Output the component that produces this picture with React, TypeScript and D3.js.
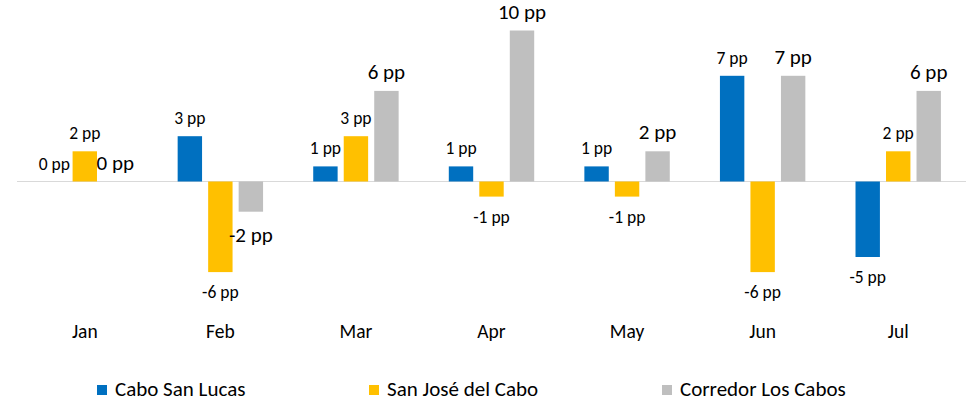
import React from 'react';
import { scaleBand, scaleLinear } from 'd3';

const months = ['Jan', 'Feb', 'Mar', 'Apr', 'May', 'Jun', 'Jul'];
const seriesNames = ['Cabo San Lucas', 'San José del Cabo', 'Corredor Los Cabos'];
const caboSanLucas = [0, 3, 1, 1, 1, 7, -5];
const sanJoseDelCabo = [2, -6, 3, -1, -1, -6, 2];
const corredorLosCabos = [0, -2, 6, 10, 2, 7, 6];
const colors = ['#0070C0', '#FFC000', '#BFBFBF'];

const FONT = 'Calibri, Carlito, Lato, sans-serif';

const App = () => {
  const width = 980;
  const height = 402;
  const seriesValues = [caboSanLucas, sanJoseDelCabo, corredorLosCabos];

  const x0 = scaleBand<string>()
    .domain(months)
    .range([17, 966])
    .paddingInner(0.37)
    .paddingOuter(0.185);

  const x1 = scaleBand<string>()
    .domain(seriesNames)
    .range([0, x0.bandwidth()])
    .paddingInner(0.2);

  // zero line sits at ~181.5px
  const y = scaleLinear().domain([-6, 10]).range([272.1, 30.5]);
  const zeroY = y(0);

  const legendX = [97, 369, 662];

  return (
    <svg
      width={width}
      height={height}
      style={{ position: 'absolute', left: 0, top: 0, background: '#fff' }}
      fontFamily={FONT}
    >
      <line x1={17} x2={966} y1={zeroY} y2={zeroY} stroke="#D9D9D9" strokeWidth={1} />

      {seriesNames.map((name, si) => (
        <g key={name}>
          {months.map((m, i) => {
            const v = seriesValues[si][i];
            const bx = (x0(m) as number) + (x1(name) as number);
            const top = Math.min(y(v), zeroY);
            const h = Math.abs(y(v) - zeroY);
            return (
              <rect key={m} x={bx} y={top} width={x1.bandwidth()} height={h} fill={colors[si]} />
            );
          })}
        </g>
      ))}

      {seriesNames.map((name, si) => (
        <g key={name + '-labels'}>
          {months.map((m, i) => {
            const v = seriesValues[si][i];
            const cx = (x0(m) as number) + (x1(name) as number) + x1.bandwidth() / 2;
            const big = si === 2;
            const ly = v >= 0 ? y(v) - 12 : y(v) + (big ? 30 : 26);
            return (
              <text
                key={m}
                x={cx}
                y={ly}
                textAnchor="middle"
                fontSize={big ? 21 : 17.5}
                fill="#000"
              >
                {`${v} pp`}
              </text>
            );
          })}
        </g>
      ))}

      {months.map(m => (
        <text
          key={m}
          x={(x0(m) as number) + x0.bandwidth() / 2}
          y={338}
          textAnchor="middle"
          fontSize={19.5}
          fill="#000"
        >
          {m}
        </text>
      ))}

      {seriesNames.map((name, si) => (
        <g key={name + '-legend'} transform={`translate(${legendX[si]},0)`}>
          <rect x={0} y={385} width={10} height={10} fill={colors[si]} />
          <text x={18} y={396} fontSize={21} fill="#000">
            {name}
          </text>
        </g>
      ))}
    </svg>
  );
};

export default App;
